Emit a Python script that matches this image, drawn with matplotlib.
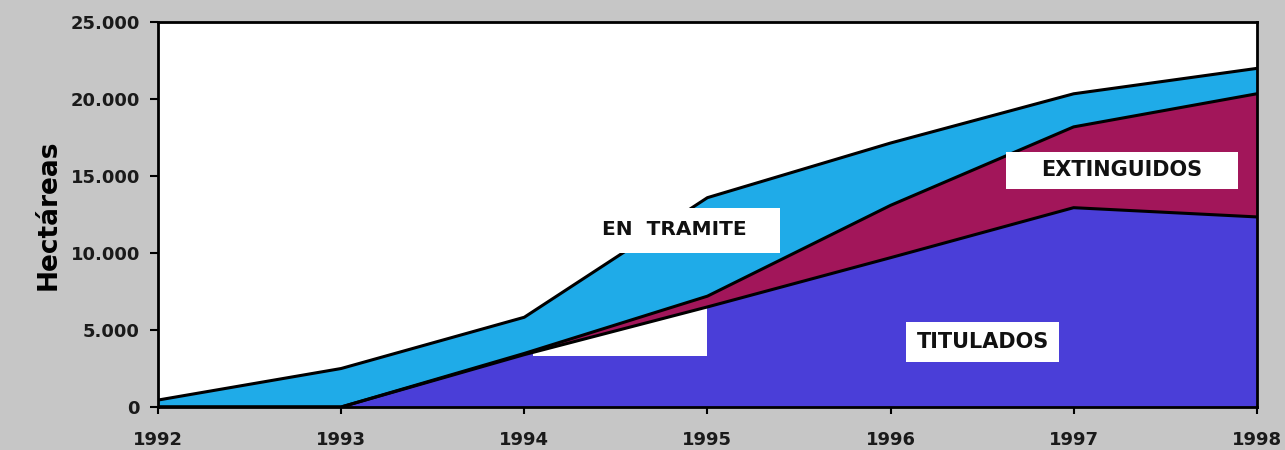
import numpy as np
import matplotlib
matplotlib.use('Agg')
import matplotlib.pyplot as plt
from matplotlib.patches import Rectangle
from matplotlib.ticker import FuncFormatter

# Data (hectares)
years = [1992, 1993, 1994, 1995, 1996, 1997, 1998]
titulados = [0, 0, 3400, 6500, 9700, 12950, 12350]
extinguidos = [0, 0, 80, 700, 3400, 5250, 8000]
en_tramite = [450, 2500, 2350, 6400, 4050, 2150, 1650]

labels = ['TITULADOS', 'EXTINGUIDOS', 'EN  TRAMITE']
colors = ['#4a3ed8', '#a2165a', '#1fabe8']

plt.rcParams['font.family'] = ['DejaVu Sans']

fig = plt.figure(figsize=(12.85, 4.5), dpi=100, facecolor='#c6c6c6')
ax = fig.add_axes([0.123, 0.0956, 0.855, 0.855])
ax.set_facecolor('white')

tit = np.array(titulados)
ext = tit + np.array(extinguidos)
tot = ext + np.array(en_tramite)

ax.fill_between(years, 0, tit, color=colors[0], lw=0, zorder=1)
# white patch sitting over the titulados area near 1994-1995
ax.add_patch(Rectangle((1994.05, 3300), 0.95, 3700, facecolor='white', edgecolor='none', zorder=1.5))
ax.fill_between(years, tit, ext, color=colors[1], lw=0, zorder=2)
ax.fill_between(years, ext, tot, color=colors[2], lw=0, zorder=2)
for line in (tit, ext, tot):
    ax.plot(years, line, color='black', lw=2.2, zorder=3)

ax.set_xlim(1992, 1998)
ax.set_ylim(0, 25000)
ax.set_xticks(years)
ax.set_yticks(range(0, 25001, 5000))
ax.yaxis.set_major_formatter(FuncFormatter(lambda v, p: '{:,.0f}'.format(v).replace(',', '.')))
for lab in ax.get_xticklabels() + ax.get_yticklabels():
    lab.set_fontweight('bold')
    lab.set_color('#1a1a1a')
ax.tick_params(axis='x', labelsize=13, length=5, width=1.5, pad=12)
ax.tick_params(axis='y', labelsize=13, length=6, width=1.5, pad=7)
ax.set_ylabel('Hectáreas', fontsize=19, fontweight='bold')
ax.yaxis.set_label_coords(-0.088, 0.5)
for sp in ax.spines.values():
    sp.set_linewidth(2)
    sp.set_zorder(5)

# label boxes (axes fractions)
boxes = [
    ((0.3885, 0.400, 0.1775, 0.117), (0.470, 0.460)),
    ((0.7716, 0.566, 0.211, 0.096), (0.877, 0.616)),
    ((0.6806, 0.117, 0.139, 0.104), (0.751, 0.169)),
]
order = [2, 1, 0]
for (rect, (tx, ty)), i in zip(boxes, order):
    ax.add_patch(Rectangle(rect[:2], rect[2], rect[3], transform=ax.transAxes,
                           facecolor='white', edgecolor='none', zorder=4))
    ax.text(tx, ty, labels[i], transform=ax.transAxes, ha='center', va='center',
            fontsize=14.5 if i == 2 else 15, fontweight='bold', color='#111111', zorder=5)

fig.savefig('out.png', dpi=100, facecolor=fig.get_facecolor())
